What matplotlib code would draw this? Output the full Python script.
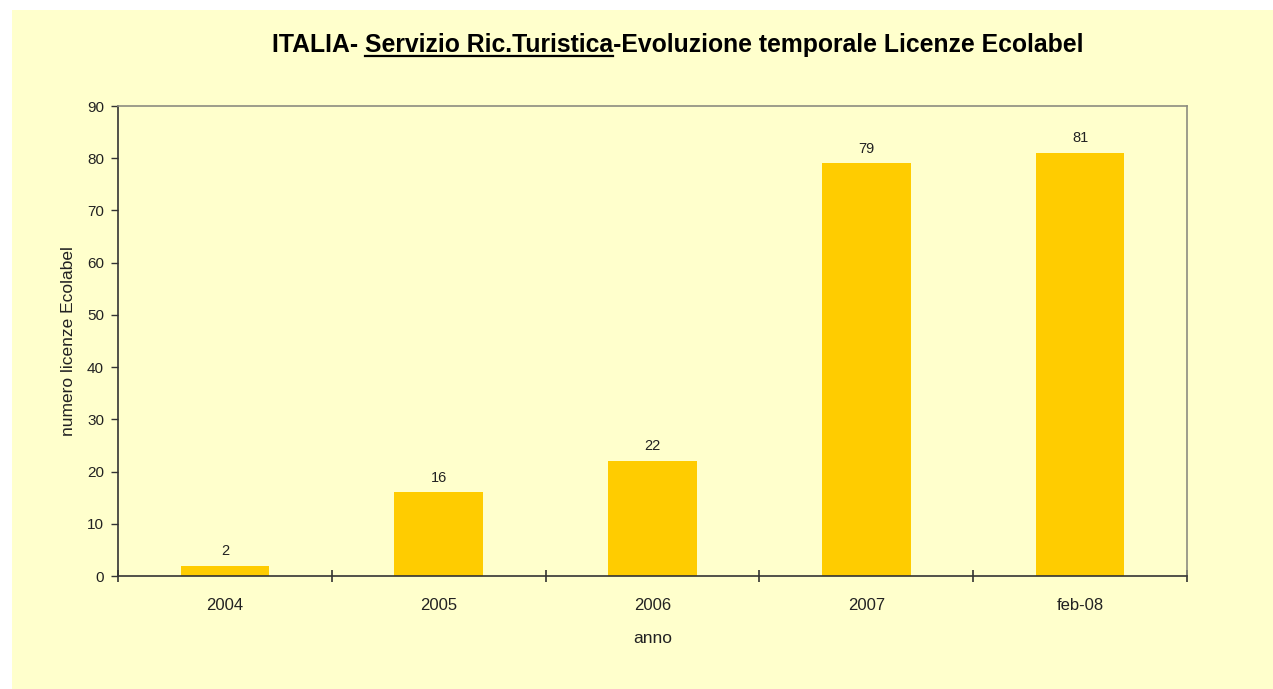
import matplotlib
matplotlib.use("Agg")
import matplotlib.pyplot as plt
from matplotlib.patches import Rectangle
from matplotlib.lines import Line2D
import numpy as np

# data
categories = ["2004", "2005", "2006", "2007", "feb-08"]
licenze = [2, 16, 22, 79, 81]

title_pre = "ITALIA- "
title_und = "Servizio Ric.Turistica"
title_post = "-Evoluzione temporale Licenze Ecolabel"

plt.rcParams['font.family'] = ['Liberation Sans', 'DejaVu Sans']

W, H = 1273, 689
fig = plt.figure(figsize=(W / 100, H / 100), dpi=100)
fig.patch.set_facecolor("white")
bg = "#FFFFCC"
fig.patches.append(Rectangle((12 / W, -0.01), 1, 1.01 - 10 / H, transform=fig.transFigure,
                             facecolor=bg, edgecolor="none", zorder=-5))

ax = fig.add_axes([118 / W, (H - 576) / H, (1187 - 118) / W, (576 - 106) / H])
ax.set_facecolor(bg)

x = np.arange(len(categories))
bars = ax.bar(x, licenze, width=0.415, color="#FFCC00", zorder=2)
for b, v in zip(bars, licenze):
    ax.annotate(str(v), (b.get_x() + b.get_width() / 2, v), xytext=(0, 5.5),
                textcoords="offset points", ha="center", va="bottom",
                fontsize=10.5, color="#222222")

ax.set_xlim(-0.5, len(categories) - 0.5)
ax.set_ylim(0, 90)
ax.set_yticks(range(0, 91, 10))
ax.set_xticks(x)
ax.set_xticklabels(categories)
ax.set_xticks(np.arange(-0.5, len(categories)), minor=True)
ax.tick_params(axis="x", which="major", length=0, pad=16, labelsize=12, labelcolor="#222222")
ax.tick_params(axis="x", which="minor", direction="inout", length=8, width=1.2, color="#333333")
ax.tick_params(axis="y", direction="out", length=5, width=1, color="#333333",
               labelsize=11, labelcolor="#222222", pad=5)

for s in ["left", "bottom"]:
    ax.spines[s].set_color("#333333")
    ax.spines[s].set_linewidth(1.2)
for s in ["top", "right"]:
    ax.spines[s].set_color("#8c8c80")
    ax.spines[s].set_linewidth(1.2)

ax.set_xlabel("anno", fontsize=12.5, color="#222222", labelpad=13)
ax.set_ylabel("numero licenze Ecolabel", fontsize=12.5, color="#222222", labelpad=8)

# title with underlined middle part
tsize = 17.8
ty = 1 - 45 / H
full = fig.text(677.5 / W, ty, title_pre + title_und + title_post, ha="center", va="center",
                fontsize=tsize, fontweight="bold", color="black")
r = fig.canvas.get_renderer()


def tw(s):
    t = fig.text(0, 0, s, fontsize=tsize, fontweight="bold")
    w = t.get_window_extent(r).width
    t.remove()
    return w


bb = full.get_window_extent(r)
x0 = bb.x0 + tw(title_pre + "S") - tw("S")
x1 = x0 + tw(title_und)
yl = bb.y0 + 1
fig.add_artist(Line2D([x0 / W, x1 / W], [yl / H, yl / H], transform=fig.transFigure,
                      color="black", linewidth=1.6))

fig.savefig("out.png", dpi=100, facecolor=fig.get_facecolor())
